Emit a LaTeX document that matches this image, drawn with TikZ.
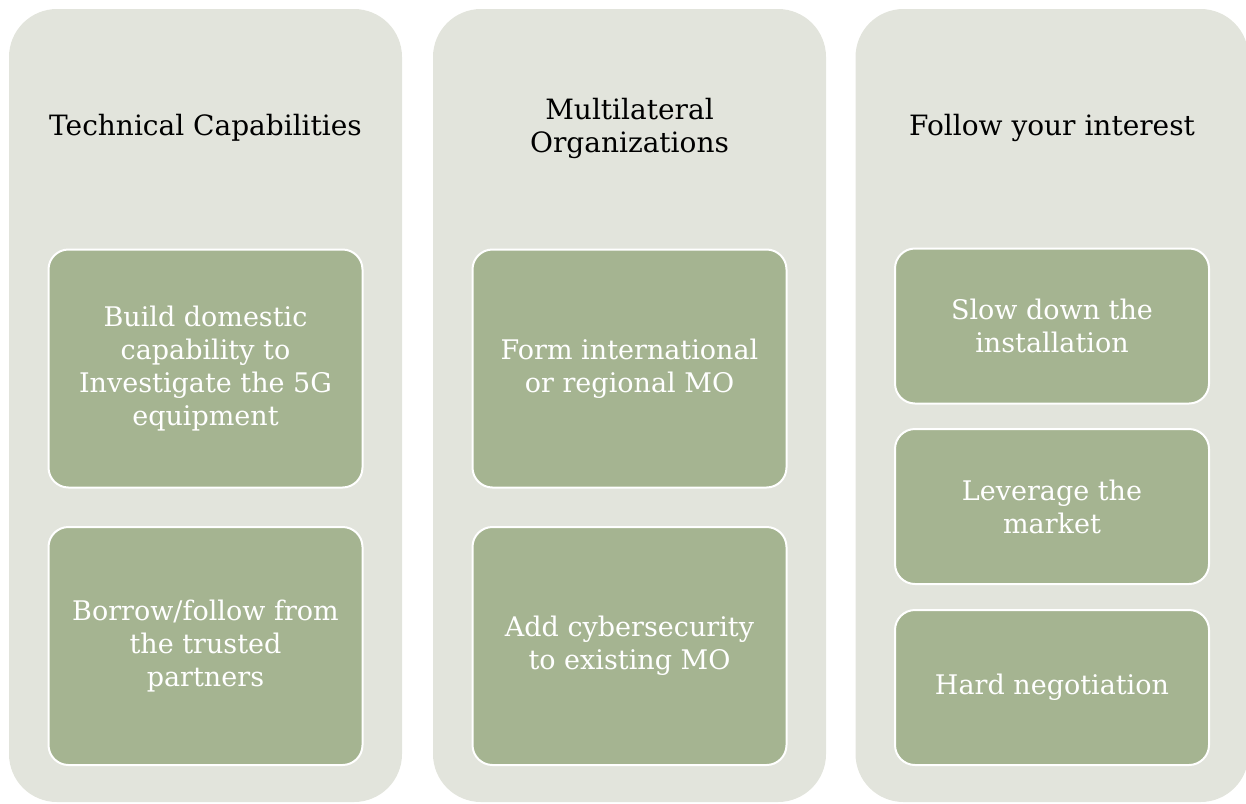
\documentclass[tikz,border=0pt]{standalone}
\usepackage{fontspec}
\setmainfont{DejaVu Serif}
\usetikzlibrary{positioning}
\usepackage{xcolor}
\definecolor{panelgray}{HTML}{E2E4DC}
\definecolor{boxgreen}{HTML}{A5B491}

\begin{document}
\begin{tikzpicture}[x=1pt,y=-1pt,%
		   panel/.style={fill=panelgray,rounded corners=48pt,minimum width=393pt,minimum height=793pt,inner sep=0pt},
		   heading/.style={align=center,text=black,font=\fontsize{28}{33}\selectfont},
		   choice/.style={fill=boxgreen,draw=white,line width=2pt,rounded corners=20pt,text=white,align=center,
		                  minimum width=314pt,inner sep=0pt,font=\fontsize{27}{33}\selectfont}]

	    \useasboundingbox (0,0) rectangle (1246,803);

	    \foreach \px/\name/\head in {%
		    205.5/tech/Technical Capabilities,%
		    629.5/multi/Multilateral\\Organizations,%
		    1052/follow/Follow your interest%
	       } { \node[panel] (\name) at (\px,405.5) {};
		   \node[heading] (\name-head) at (\px,128) {\head};
	       }

	    % two tall boxes in the first two panels
	    \foreach \name/\py/\txt [count=\y] in {%
		    tech/368.5/Build domestic\\capability to\\Investigate the 5G\\equipment,%
		    tech/646/{Borrow/follow from\\the trusted\\partners},%
		    multi/368.5/Form international\\or regional MO,%
		    multi/646/Add cybersecurity\\to existing MO%
	       } { \node[choice,minimum height=238pt] (box-\y) at (\name.center |- 0,\py) {\txt};
	       }

	    % three short boxes in the last panel
	    \foreach \py/\txt [count=\y] in {%
		    326/Slow down the\\installation,%
		    506.5/Leverage the\\market,%
		    687.5/Hard negotiation%
	       } { \node[choice,minimum height=155pt] (follow-\y) at (follow.center |- 0,\py) {\txt};
	       }
	\end{tikzpicture}
\end{document}
